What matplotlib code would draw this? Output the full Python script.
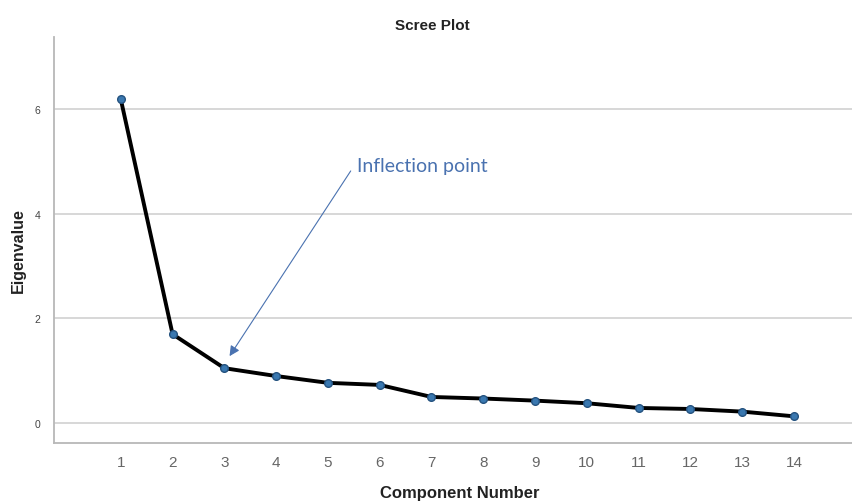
import numpy as np
import matplotlib.pyplot as plt

plt.rcParams['font.family'] = ['Liberation Sans', 'DejaVu Sans']

components = np.arange(1, 15)
eigenvalues = [6.19, 1.70, 1.05, 0.90, 0.77, 0.73, 0.50, 0.47, 0.43, 0.38, 0.29, 0.27, 0.22, 0.13]

fig = plt.figure(figsize=(8.53, 5.02), dpi=100)
ax = fig.add_axes([54/853, 58/502, 1 - 54/853, (444 - 38)/502])

ax.plot(components, eigenvalues, color='black', lw=2.8, zorder=3)
ax.plot(components, eigenvalues, 'o', color='#3a78b0', mec='#24527f', mew=1.0,
        markersize=5.5, zorder=4)

ax.set_xlim(-0.29, 15.14)
ax.set_ylim(-0.38, 7.38)
ax.set_xticks(components)
ax.set_yticks([0, 2, 4, 6])
ax.yaxis.grid(True, color='#d4d4d4', lw=1.3)
ax.set_axisbelow(True)

for s in ['top', 'right']:
    ax.spines[s].set_visible(False)
for s in ['left', 'bottom']:
    ax.spines[s].set_color('#b8b8b8')
    ax.spines[s].set_linewidth(1.3)

ax.tick_params(axis='x', length=0, labelsize=11, labelcolor='#666666', pad=9)
ax.tick_params(axis='y', length=0, labelsize=7.5, labelcolor='#444444', pad=10)

# arrow from the lower-left corner of the label to the elbow
ax.annotate('', xy=(3.1, 1.28), xytext=(5.44, 4.82),
            arrowprops=dict(arrowstyle='-|>', color='#4a72b0', lw=0.8,
                            mutation_scale=15, shrinkA=0, shrinkB=0))
ax.text(5.56, 4.92, 'Inflection point', fontsize=14, color='#4a72b0',
        family=['Lato', 'DejaVu Sans'], va='center', ha='left')

fig.text(432/853, 1 - 26/502, 'Scree Plot', ha='center', va='center',
         fontsize=11, fontweight='bold', color='#222222')
fig.text(460/853, 1 - 494/502, 'Component Number', ha='center', va='center',
         fontsize=12, fontweight='bold', color='#222222')
fig.text(18/853, 1 - 251/502, 'Eigenvalue', ha='center', va='center',
         rotation=90, fontsize=11.5, fontweight='bold', color='#222222')

plt.savefig('out.png', dpi=100)
